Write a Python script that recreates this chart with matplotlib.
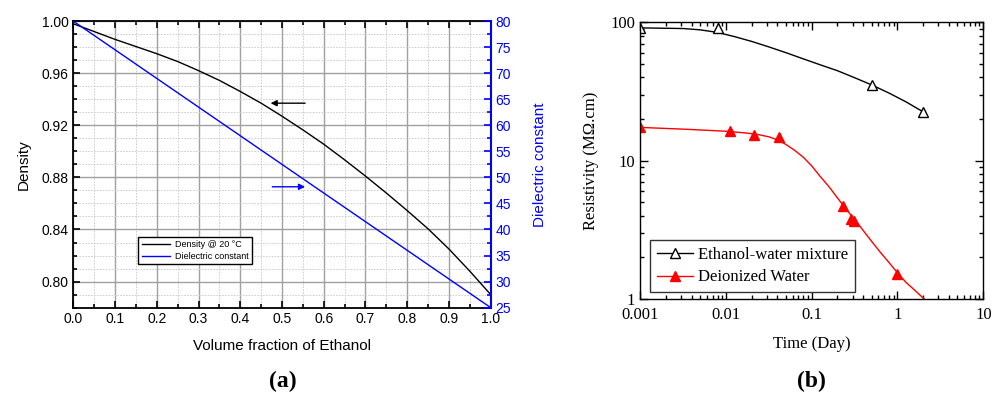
import matplotlib
matplotlib.use("Agg")
import matplotlib.pyplot as plt
from matplotlib.ticker import MultipleLocator, LogLocator, NullFormatter
from matplotlib.lines import Line2D

# ---- panel (a) data ----
vol_frac = [0.0, 0.05, 0.1, 0.15, 0.2, 0.25, 0.3, 0.35, 0.4, 0.45, 0.5,
            0.55, 0.6, 0.65, 0.7, 0.75, 0.8, 0.85, 0.9, 0.95, 1.0]
density = [0.998, 0.992, 0.986, 0.9805, 0.975, 0.969, 0.962, 0.9545, 0.946,
           0.937, 0.927, 0.9165, 0.9055, 0.8935, 0.881, 0.868, 0.8545, 0.8405,
           0.825, 0.808, 0.790]
diel_frac = [0.0, 0.5, 1.0]
dielectric = [80.0, 52.5, 25.0]

# ---- panel (b) data ----
eth_t = [0.001, 0.008, 0.5, 2.0]
eth_r = [91.0, 91.5, 35.5, 22.4]
eth_fit_t = [0.001, 0.0032, 0.005, 0.0079, 0.0126, 0.02, 0.0316, 0.05, 0.079,
             0.126, 0.2, 0.316, 0.5, 0.79, 1.26, 2.0]
eth_fit_r = [91.2, 90.2, 88.3, 84.7, 78.9, 72.8, 66.5, 60.4, 54.6, 49.3, 44.7,
             39.8, 35.3, 30.9, 26.6, 22.5]

di_t = [0.001, 0.0112, 0.0215, 0.042, 0.229, 0.29, 0.31, 1.0]
di_r = [17.4, 16.4, 15.3, 14.9, 4.72, 3.8, 3.65, 1.51]
di_fit_t = [0.001, 0.0032, 0.01, 0.018, 0.025, 0.032, 0.04, 0.05, 0.063, 0.08,
            0.1, 0.125, 0.16, 0.2, 0.25, 0.32, 0.4, 0.5, 0.63, 0.8, 1.0, 1.25,
            1.6, 2.05]
di_fit_r = [17.4, 16.9, 16.33, 15.81, 15.35, 14.86, 14.13, 13.12, 11.91, 10.59,
            9.18, 7.73, 6.46, 5.38, 4.49, 3.74, 3.12, 2.61, 2.18, 1.83, 1.545,
            1.324, 1.153, 1.0]

sans = "Liberation Sans"
serif = "Liberation Serif"

fig = plt.figure(figsize=(10, 3.99), dpi=100)

# ================= (a) =================
ax = fig.add_axes([0.0733, 0.229, 0.4174, 0.718])
ax.plot(vol_frac, density, color="black", lw=1, label="Density @ 20 \u00b0C")
ax.set_xlim(0, 1)
ax.set_ylim(0.78, 1.0)
ax.xaxis.set_major_locator(MultipleLocator(0.1))
ax.xaxis.set_minor_locator(MultipleLocator(0.05))
ax.yaxis.set_major_locator(MultipleLocator(0.04))
ax.yaxis.set_minor_locator(MultipleLocator(0.01))
ax.yaxis.set_major_formatter(plt.FormatStrFormatter("%.2f"))
ax.xaxis.set_major_formatter(plt.FormatStrFormatter("%.1f"))
ax.grid(which="major", color="#a0a0a0", lw=1.0)
ax.grid(which="minor", color="#c8c8c8", lw=0.6, ls=(0, (2, 1.5)))
ax.set_axisbelow(True)
ax.tick_params(which="both", direction="in", top=True, labelsize=10, width=1.2)
ax.tick_params(which="major", length=5)
ax.tick_params(which="minor", length=3)
for lab in ax.get_xticklabels() + ax.get_yticklabels():
    lab.set_fontfamily(sans)
for s in ax.spines.values():
    s.set_linewidth(1.3)
ax.set_xlabel("Volume fraction of Ethanol", fontsize=11, family=sans, labelpad=9)
ax.set_ylabel("Density", fontsize=11, family=sans, labelpad=8)

ax2 = ax.twinx()
ax2.plot(diel_frac, dielectric, color="blue", lw=1, label="Dielectric constant")
ax2.set_ylim(25, 80)
ax2.yaxis.set_major_locator(MultipleLocator(5))
ax2.yaxis.set_minor_locator(MultipleLocator(2.5))
ax2.tick_params(which="both", direction="in", colors="blue", labelsize=10, width=1.2)
ax2.tick_params(which="major", length=5)
ax2.tick_params(which="minor", length=3)
for lab in ax2.get_yticklabels():
    lab.set_fontfamily(sans)
ax2.spines["right"].set_color("blue")
ax2.spines["right"].set_linewidth(1.5)
for k in ("left", "top", "bottom"):
    ax2.spines[k].set_visible(False)
ax2.set_ylabel("Dielectric constant", color="blue", fontsize=11, family=sans,
               labelpad=16)

# arrows
ax.annotate("", xy=(0.466, 0.937), xytext=(0.562, 0.937),
            arrowprops=dict(arrowstyle="-|>", color="black", lw=1, mutation_scale=9))
ax2.annotate("", xy=(0.562, 48.2), xytext=(0.47, 48.2),
             arrowprops=dict(arrowstyle="-|>", color="blue", lw=1, mutation_scale=9))

h1, l1 = ax.get_legend_handles_labels()
h2, l2 = ax2.get_legend_handles_labels()
leg = ax2.legend(h1 + h2, l1 + l2, loc="lower left", bbox_to_anchor=(0.156, 0.152),
                 borderaxespad=0, fancybox=False, edgecolor="black", framealpha=1,
                 prop={"family": sans, "size": 6.5}, handlelength=3.2,
                 handletextpad=0.5, borderpad=0.35, labelspacing=0.3)
leg.get_frame().set_linewidth(1.0)

fig.text(0.2825, 0.043, "(a)", ha="center", va="center", fontsize=17,
         fontweight="bold", family=serif)

# ================= (b) =================
bx = fig.add_axes([0.640, 0.2506, 0.3433, 0.6934])
bx.plot(eth_fit_t, eth_fit_r, color="black", lw=1)
bx.plot(eth_t, eth_r, ls="none", marker="^", mfc="white", mec="black",
        ms=7.5, mew=1)
bx.plot(di_fit_t, di_fit_r, color="red", lw=1)
bx.plot(di_t, di_r, ls="none", marker="^", mfc="red", mec="red", ms=7.5)
bx.set_xscale("log")
bx.set_yscale("log")
bx.set_xlim(0.001, 10)
bx.set_ylim(1, 100)
bx.xaxis.set_minor_locator(LogLocator(base=10, subs=range(2, 10)))
bx.yaxis.set_minor_locator(LogLocator(base=10, subs=range(2, 10)))
bx.xaxis.set_minor_formatter(NullFormatter())
bx.yaxis.set_minor_formatter(NullFormatter())
bx.set_xticks([0.001, 0.01, 0.1, 1, 10])
bx.set_xticklabels(["0.001", "0.01", "0.1", "1", "10"])
bx.set_yticks([1, 10, 100])
bx.set_yticklabels(["1", "10", "100"])
bx.tick_params(which="both", direction="in", top=True, right=True,
               labelsize=12, width=1)
bx.tick_params(axis="x", pad=6)
bx.tick_params(which="major", length=6)
bx.tick_params(which="minor", length=3)
for lab in bx.get_xticklabels() + bx.get_yticklabels():
    lab.set_fontfamily(serif)
for s in bx.spines.values():
    s.set_linewidth(1.0)
bx.set_xlabel("Time (Day)", fontsize=12, family=serif, labelpad=9)
bx.set_ylabel("Resistivity (M\u03a9.cm)", fontsize=12, family=serif, labelpad=8)

hb = [Line2D([], [], color="black", lw=1, marker="^", mfc="white", mec="black", ms=7),
      Line2D([], [], color="red", lw=1, marker="^", mfc="red", mec="red", ms=7)]
legb = bx.legend(hb, ["Ethanol-water mixture", "Deionized Water"], loc="lower left",
                 bbox_to_anchor=(0.029, 0.025), borderaxespad=0, fancybox=False,
                 edgecolor="#333333", framealpha=1, prop={"family": serif, "size": 12},
                 handlelength=2.2, handletextpad=0.3, borderpad=0.4, labelspacing=0.4)
legb.get_frame().set_linewidth(1.0)

fig.text(0.8115, 0.043, "(b)", ha="center", va="center", fontsize=17,
         fontweight="bold", family=serif)

fig.savefig("out.png", dpi=100)
